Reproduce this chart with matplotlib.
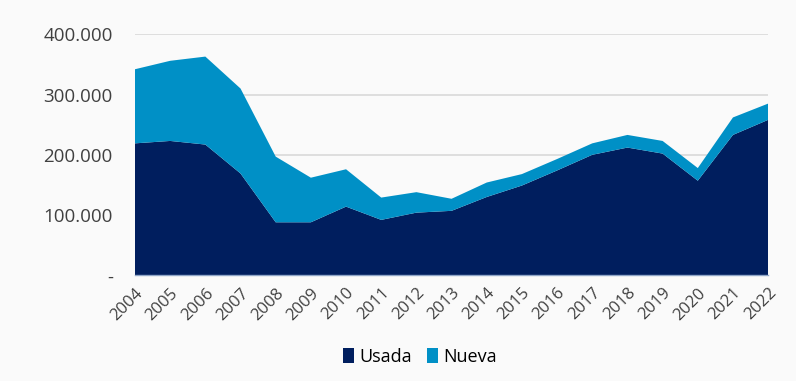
import matplotlib.pyplot as plt
from matplotlib.ticker import FuncFormatter

anios = list(range(2004, 2023))
usada = [219000, 223000, 217000, 169000, 88000, 88000, 114000, 92000, 104000, 107000,
         130000, 149000, 174000, 200000, 212000, 202000, 157000, 233000, 258000]
total = [342000, 356000, 363000, 310000, 197000, 162000, 176000, 129000, 138000, 127000,
         154000, 168000, 193000, 219000, 233000, 223000, 178000, 262000, 285000]
nueva = [t - u for t, u in zip(total, usada)]

plt.rcParams['font.family'] = ['Open Sans', 'DejaVu Sans']

fig = plt.figure(figsize=(7.96, 3.81), dpi=100, facecolor='#fafafa')
ax = fig.add_axes([0.1696, 0.2774, 0.7954, 0.6326], facecolor='#fafafa')

ax.stackplot(anios, usada, nueva, colors=['#001e5e', '#0090c6'],
             labels=['Usada', 'Nueva'], linewidth=0)

ax.set_xlim(2004, 2022)
ax.set_ylim(0, 400000)
ax.set_yticks([0, 100000, 200000, 300000, 400000])


def fmt(v, pos):
    if v == 0:
        return '-'
    return f'{int(v):,}'.replace(',', '.')


ax.yaxis.set_major_formatter(FuncFormatter(fmt))
ax.set_xticks(anios)
ax.set_xticklabels([str(a) for a in anios], rotation=45, ha='right',
                   rotation_mode='anchor', fontsize=12, color='#404040')
ax.tick_params(axis='y', labelsize=13.5, colors='#404040', length=0, pad=16)
ax.tick_params(axis='x', length=0, pad=7)

ax.grid(axis='y', color='#d9d9d9', linewidth=1.2)
ax.set_axisbelow(True)
for s in ['top', 'right', 'left']:
    ax.spines[s].set_visible(False)
ax.spines['bottom'].set_color('#8fa6c8')
ax.spines['bottom'].set_linewidth(1)

fig.legend(loc='center', bbox_to_anchor=(420 / 796, 1 - 357 / 381), ncol=2,
           frameon=False, fontsize=13, handlelength=0.6, handleheight=0.9,
           handletextpad=0.3, columnspacing=0.8)

fig.savefig('out.png', dpi=100, facecolor=fig.get_facecolor())
